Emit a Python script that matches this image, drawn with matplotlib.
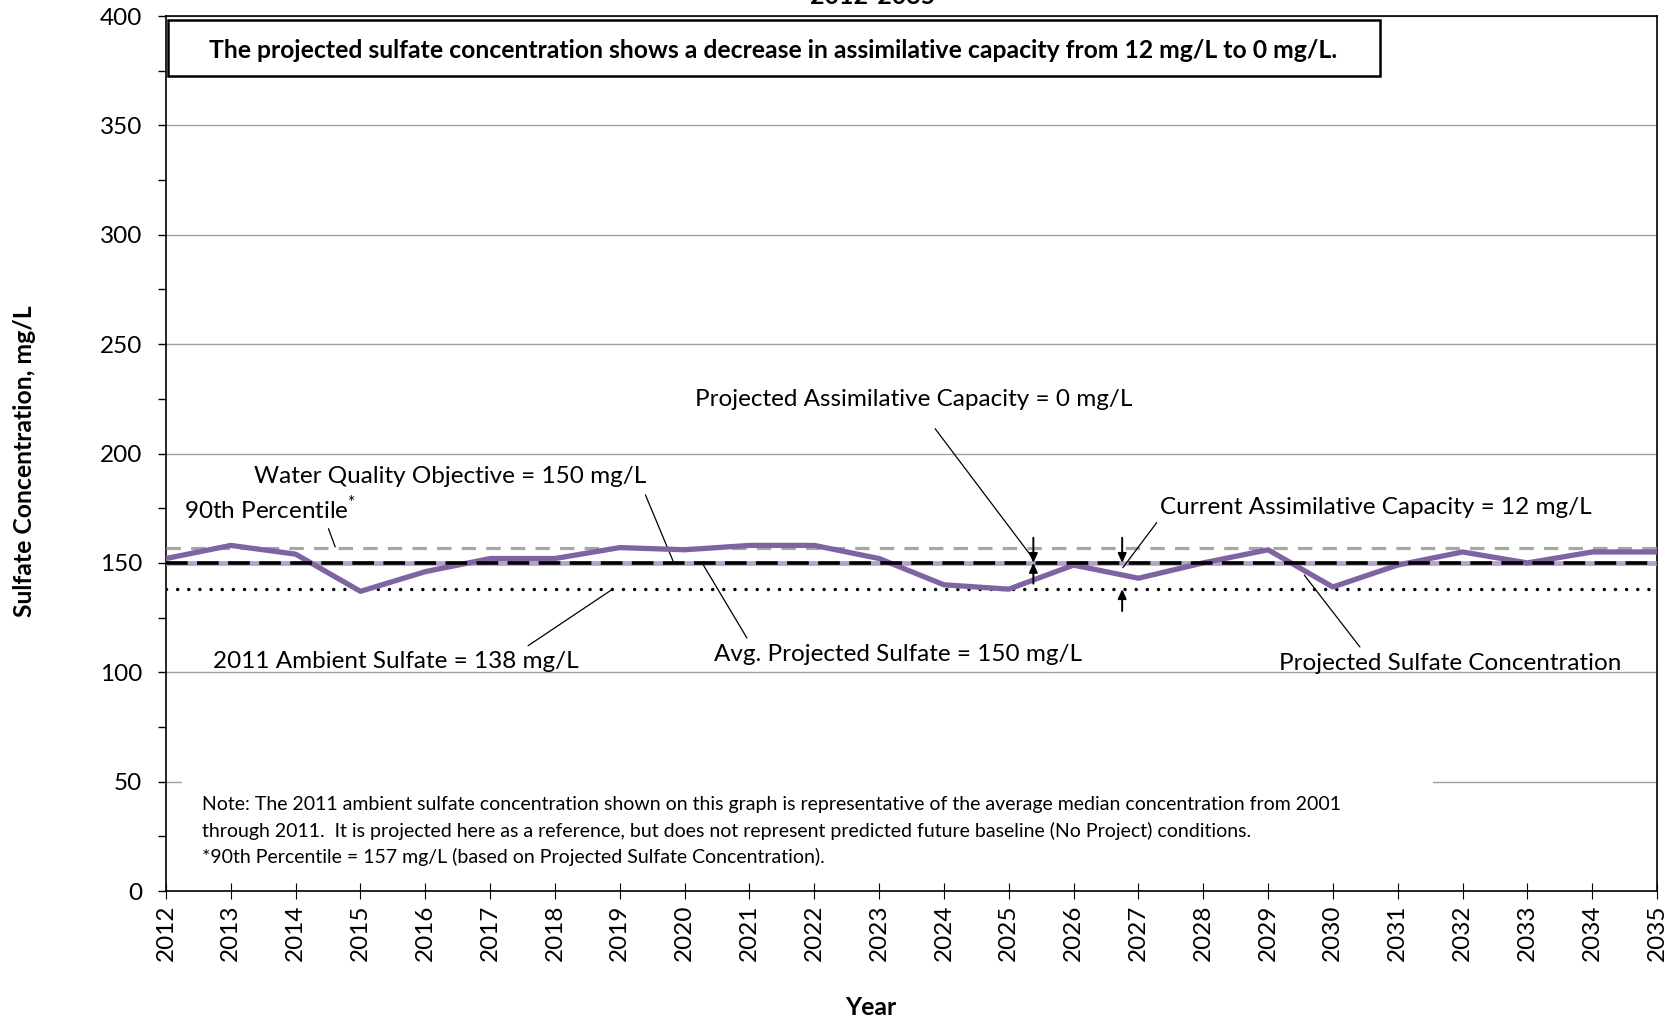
import numpy as np
import matplotlib
matplotlib.use('Agg')
import matplotlib.pyplot as plt
from matplotlib.patches import Rectangle

plt.rcParams['font.family'] = ['Lato', 'DejaVu Sans']
plt.rcParams['mathtext.fontset'] = 'custom'
plt.rcParams['mathtext.rm'] = 'Lato'

# data
years = np.arange(2012, 2036)
projected = [152, 158, 154, 137, 146, 152, 152, 157, 156, 158, 158, 152,
             140, 138, 149, 143, 150, 156, 139, 149, 155, 150, 155, 155]
wqo = 150          # water quality objective
avg_proj = 150     # avg projected sulfate
pct90 = 157        # 90th percentile
ambient = 138      # 2011 ambient sulfate

fig = plt.figure(figsize=(16.8, 10.21), dpi=100)
ax = fig.add_axes([0.0988, 0.1273, 0.8875, 0.8570])

purple = '#8064a2'
ax.plot(years, [pct90]*len(years), color='#a6a6a6', lw=2.3, dashes=(4.5, 3.2), zorder=3)
ax.plot(years, [avg_proj]*len(years), color='#b3a2c7', lw=3.4, zorder=3)
ax.plot(years, [ambient]*len(years), color='black', lw=2.5, dashes=(0.01, 3.2),
        dash_capstyle='round', zorder=3)
ax.plot(years, projected, color=purple, lw=3.8, zorder=4)
ax.plot(years, [wqo]*len(years), color='black', lw=2.6, dashes=(6, 2.6), zorder=5)

ax.set_xlim(2012, 2035)
ax.set_ylim(0, 400)
ax.set_xticks(years)
ax.set_xticklabels([str(y) for y in years], rotation=90, fontsize=17.5)
ax.set_yticks(np.arange(0, 401, 50))
ax.set_yticks(np.arange(0, 401, 25), minor=True)
ax.tick_params(axis='y', labelsize=17.5, direction='out', length=6, width=1, pad=11)
ax.tick_params(axis='y', which='minor', direction='out', length=6, width=1)
ax.tick_params(axis='x', direction='inout', length=12, width=0.8, pad=4)
ax.set_axisbelow(True)
ax.grid(axis='y', color='#a0a0a0', lw=1)
for s in ax.spines.values():
    s.set_linewidth(1.2)

# note box hiding gridline
ax.add_patch(Rectangle((2012.25, 6), 19.3, 48, fc='white', ec='none', zorder=2))
ax.text(2012.55, 27.3,
        'Note: The 2011 ambient sulfate concentration shown on this graph is representative of the average median concentration from 2001\n'
        'through 2011.  It is projected here as a reference, but does not represent predicted future baseline (No Project) conditions.\n'
        '*90th Percentile = 157 mg/L (based on Projected Sulfate Concentration).',
        fontsize=14, va='center', ha='left', linespacing=1.55, zorder=2.5)

# headline box
ax.add_patch(Rectangle((2012.03, 372.6), 18.69, 25.4, fc='white', ec='black', lw=1.8, zorder=6))
ax.text(2021.37, 384.3, 'The projected sulfate concentration shows a decrease in assimilative capacity from 12 mg/L to 0 mg/L.',
        fontsize=17.8, fontweight='bold', ha='center', va='center', zorder=7)

lead = dict(arrowstyle='-', color='black', lw=0.9)
fs = 17.5
ax.annotate('Projected Assimilative Capacity = 0 mg/L', xy=(2025.35, 153), xytext=(2023.53, 224.5),
            ha='center', va='center', fontsize=fs, arrowprops=dict(lead, shrinkA=14, shrinkB=0))
ax.annotate('Water Quality Objective = 150 mg/L', xy=(2019.82, 151), xytext=(2016.38, 189.5),
            ha='center', va='center', fontsize=fs, arrowprops=dict(lead, relpos=(0.99, 0.0), shrinkA=4, shrinkB=0))
ax.annotate('90th Percentile$^{*}$', xy=(2014.61, 157.3), xytext=(2013.6, 174.5),
            ha='center', va='center', fontsize=fs, arrowprops=dict(lead, relpos=(0.83, 0.0), shrinkA=2, shrinkB=0))
ax.annotate('Current Assimilative Capacity = 12 mg/L', xy=(2026.76, 147.8), xytext=(2030.67, 175.5),
            ha='center', va='center', fontsize=fs, arrowprops=dict(lead, relpos=(0.0, 0.0), shrinkA=2, shrinkB=0))
ax.annotate('2011 Ambient Sulfate = 138 mg/L', xy=(2018.89, 138), xytext=(2015.55, 105),
            ha='center', va='center', fontsize=fs, arrowprops=dict(lead, relpos=(0.84, 1.0), shrinkA=3, shrinkB=0))
ax.annotate('Avg. Projected Sulfate = 150 mg/L', xy=(2020.29, 149), xytext=(2023.29, 108),
            ha='center', va='center', fontsize=fs, arrowprops=dict(lead, relpos=(0.1, 1.0), shrinkA=3, shrinkB=0))
ax.annotate('Projected Sulfate Concentration', xy=(2029.56, 144.4), xytext=(2031.81, 104),
            ha='center', va='center', fontsize=fs, arrowprops=dict(lead, relpos=(0.25, 1.0), shrinkA=3, shrinkB=0))

# capacity arrows
arr = dict(arrowstyle='-|>,head_length=0.55,head_width=0.25', color='black', lw=1.4, shrinkA=0, shrinkB=0)
ax.annotate('', xy=(2025.38, 150), xytext=(2025.38, 161.5), arrowprops=arr, zorder=8)
ax.annotate('', xy=(2025.38, 150), xytext=(2025.38, 140.5), arrowprops=arr, zorder=8)
ax.annotate('', xy=(2026.75, 150), xytext=(2026.75, 161.5), arrowprops=arr, zorder=8)
ax.annotate('', xy=(2026.75, 138), xytext=(2026.75, 128), arrowprops=arr, zorder=8)

fig.text(0.518, 0.0137, 'Year', fontsize=17.8, fontweight='bold', ha='center', va='center')
fig.text(0.0145, 0.5485, 'Sulfate Concentration, mg/L', fontsize=17.8, fontweight='bold',
         rotation=90, ha='center', va='center')
fig.text(0.5195, 1 - 4/1021, '2012-2035', fontsize=18, fontweight='bold', ha='center', va='baseline')

fig.savefig('out.png', dpi=100)
